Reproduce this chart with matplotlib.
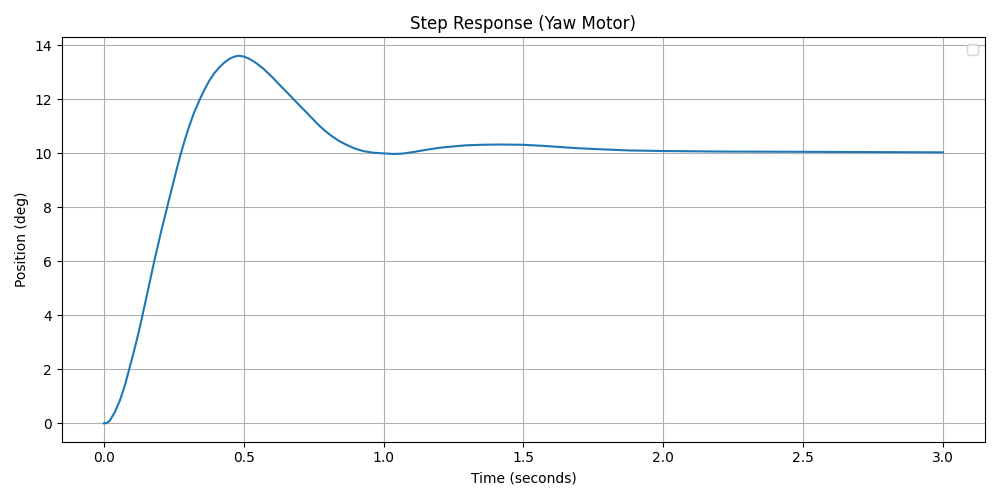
import matplotlib
matplotlib.use("Agg")
import matplotlib.pyplot as plt

time_s = [0.0, 0.0095, 0.0214, 0.039, 0.057, 0.075, 0.0905, 0.105, 0.117, 0.125, 0.138,
          0.158, 0.180, 0.203, 0.226, 0.242, 0.258, 0.274, 0.29, 0.305, 0.322, 0.343, 0.358,
          0.376, 0.394, 0.412, 0.43, 0.448, 0.465, 0.482, 0.5, 0.519, 0.543, 0.569, 0.6,
          0.629, 0.654, 0.679, 0.705, 0.73, 0.75, 0.771, 0.795, 0.819, 0.843, 0.867, 0.895,
          0.926, 0.96, 1.002, 1.033, 1.065, 1.105, 1.15, 1.2, 1.25, 1.295, 1.35, 1.414, 1.498,
          1.57, 1.64, 1.7, 1.76, 1.879, 1.998, 2.2, 2.5, 2.75, 3.0]
position_deg = [0.0, 0.01, 0.1, 0.41, 0.84, 1.40, 2.0, 2.57, 3.06, 3.4, 4.0,
                4.95, 6.0, 7.03, 8.0, 8.66, 9.32, 9.95, 10.52, 11.0, 11.5, 12.0, 12.33,
                12.68, 12.96, 13.18, 13.36, 13.5, 13.58, 13.62, 13.59, 13.51, 13.36, 13.15, 12.85,
                12.53, 12.27, 12.0, 11.72, 11.46, 11.24, 11.02, 10.8, 10.61, 10.45, 10.32, 10.19,
                10.09, 10.03, 10.0, 9.98, 9.99, 10.05, 10.13, 10.21, 10.26, 10.30, 10.32, 10.33, 10.32,
                10.28, 10.23, 10.19, 10.16, 10.11, 10.09, 10.07, 10.06, 10.05, 10.04]

fig, ax = plt.subplots(figsize=(10, 5), dpi=100)
ax.plot(time_s, position_deg, color="#1f77b4", linewidth=1.5)
ax.set_title("Step Response (Yaw Motor)")
ax.set_xlabel("Time (seconds)")
ax.set_ylabel("Position (deg)")
ax.grid(True)
ax.legend(handles=[], loc="upper right")
fig.tight_layout()
fig.savefig("out.png")
